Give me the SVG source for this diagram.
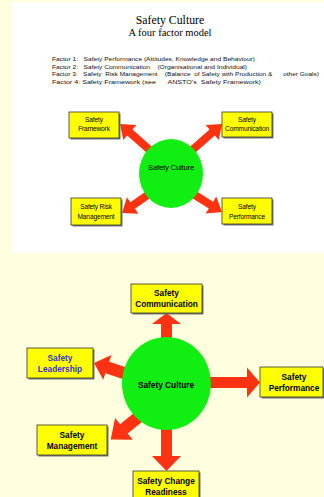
<svg xmlns="http://www.w3.org/2000/svg" width="324" height="497" viewBox="0 0 324 497">
<style>
.bg{fill:#FFFFE0}
.panel{fill:#FFFFFF}
.arrow{fill:#FF3311}
.node-ell{fill:#11EE11}
.box{fill:#FFFF00;stroke:#333333;stroke-width:0.8}
.shadow{fill:#777777}
.serif{font-family:"Liberation Serif","Times New Roman",serif;fill:#000;text-anchor:middle}
.fac{font-family:"Liberation Sans",Arial,sans-serif;font-size:6px;fill:#111;white-space:pre}
.t1{font-family:"Liberation Sans",Arial,sans-serif;font-size:6.6px;letter-spacing:-0.15px;fill:#000;text-anchor:middle}
.t2{font-family:"Liberation Sans",Arial,sans-serif;font-size:8.3px;font-weight:bold;fill:#000;text-anchor:middle}
.blue{fill:#3333CC}
</style>
<rect class="bg" x="0" y="0" width="324" height="497"/>
<rect class="panel" x="12" y="2" width="312" height="251"/>

<g id="title">
<text class="serif" x="170" y="24" font-size="11.8">Safety Culture</text>
<text class="serif" x="170" y="35.5" font-size="10.5">A four factor model</text>
</g>
<g id="factors">
<text class="fac" x="52" y="61" textLength="203" lengthAdjust="spacingAndGlyphs">Factor 1:   Safety Performance (Attitudes, Knowledge and Behaviour)</text>
<text class="fac" x="52" y="68.5" textLength="195" lengthAdjust="spacingAndGlyphs">Factor 2:   Safety Communication    (Organisational and Individual)</text>
<text class="fac" x="52" y="76" textLength="267" lengthAdjust="spacingAndGlyphs">Factor 3:   Safety  Risk Management    (Balance  of Safety with Production &amp;      other Goals)</text>
<text class="fac" x="52" y="83.5" textLength="209" lengthAdjust="spacingAndGlyphs">Factor 4: Safety Framework (see      ANSTO's  Safety Framework)</text>
</g>

<g id="connectors">
<polygon class="arrow" transform="translate(152,152) rotate(221.2)" points="0,-4 29.5,-4 29.5,-10 42.5,0 29.5,10 29.5,4 0,4"/>
<polygon class="arrow" transform="translate(190,152) rotate(-41.2)" points="0,-4 29.5,-4 29.5,-10 42.5,0 29.5,10 29.5,4 0,4"/>
<polygon class="arrow" transform="translate(152,192) rotate(145)" points="0,-4 23.6,-4 23.6,-10 36.6,0 23.6,10 23.6,4 0,4"/>
<polygon class="arrow" transform="translate(190,192) rotate(32)" points="0,-4 24.7,-4 24.7,-10 37.7,0 24.7,10 24.7,4 0,4"/>

<polygon class="arrow" transform="translate(166.5,345) rotate(-90)" points="0,-5.5 21,-5.5 21,-14.5 32,0 21,14.5 21,5.5 0,5.5"/>
<polygon class="arrow" transform="translate(166.5,420) rotate(90)" points="0,-5.5 36,-5.5 36,-14.5 51,0 36,14.5 36,5.5 0,5.5"/>
<polygon class="arrow" transform="translate(200,382.5)" points="0,-5.5 47,-5.5 47,-15 60,0 47,15 47,5.5 0,5.5"/>
<polygon class="arrow" transform="translate(130,375) rotate(198.4)" points="0,-6 23.9,-6 23.9,-13 37.9,0 23.9,13 23.9,6 0,6"/>
<polygon class="arrow" transform="translate(141,415) rotate(141)" points="0,-6 22,-6 22,-14 39,0 22,14 22,6 0,6"/>
</g>

<g id="n-top-culture">
<ellipse class="node-ell" cx="171" cy="173.5" rx="32" ry="34.5"/>
<text class="t1" x="171" y="169.5" font-size="7.2" textLength="46" lengthAdjust="spacingAndGlyphs">Safety Culture</text>
</g>
<g id="n-top-framework">
<rect class="shadow" x="70.5" y="113.5" width="50" height="26"/>
<rect class="box" x="69" y="112" width="50" height="26"/>
<text class="t1" x="94" y="122">Safety</text>
<text class="t1" x="94" y="131">Framework</text>
</g>
<g id="n-top-communication">
<rect class="shadow" x="223.5" y="113.5" width="50" height="25"/>
<rect class="box" x="222" y="112" width="50" height="25"/>
<text class="t1" x="247" y="122">Safety</text>
<text class="t1" x="247" y="131">Communication</text>
</g>
<g id="n-top-risk">
<rect class="shadow" x="72.5" y="199.5" width="50" height="27"/>
<rect class="box" x="71" y="198" width="50" height="27"/>
<text class="t1" x="96" y="209">Safety Risk</text>
<text class="t1" x="96" y="218.5">Management</text>
</g>
<g id="n-top-performance">
<rect class="shadow" x="223.5" y="199.5" width="50" height="26"/>
<rect class="box" x="222" y="198" width="50" height="26"/>
<text class="t1" x="247" y="209">Safety</text>
<text class="t1" x="247" y="218.5">Performance</text>
</g>

<g id="n-culture">
<ellipse class="node-ell" cx="166.5" cy="383.5" rx="44.5" ry="46.5"/>
<text class="t2" x="166" y="387.5" font-size="9.4">Safety Culture</text>
</g>
<g id="n-communication">
<rect class="shadow" x="132.5" y="285.5" width="71" height="29"/>
<rect class="box" x="131" y="284" width="71" height="29"/>
<text class="t2" x="166.5" y="296">Safety</text>
<text class="t2" x="166.5" y="306.5">Communication</text>
</g>
<g id="n-leadership">
<rect class="shadow" x="28.5" y="349.5" width="66" height="30"/>
<rect class="box" x="27" y="348" width="66" height="30"/>
<text class="t2 blue" x="60" y="361">Safety</text>
<text class="t2 blue" x="60" y="372">Leadership</text>
</g>
<g id="n-performance">
<rect class="shadow" x="261.5" y="368.5" width="63" height="30"/>
<rect class="box" x="260" y="367" width="63" height="30"/>
<text class="t2" x="294" y="380">Safety</text>
<text class="t2" x="294" y="390.5">Performance</text>
</g>
<g id="n-management">
<rect class="shadow" x="38.5" y="426.5" width="70" height="30"/>
<rect class="box" x="37" y="425" width="70" height="30"/>
<text class="t2" x="72" y="438">Safety</text>
<text class="t2" x="72" y="449">Management</text>
</g>
<g id="n-change">
<rect class="shadow" x="134.5" y="472.5" width="66" height="30"/>
<rect class="box" x="133" y="471" width="66" height="30"/>
<text class="t2" x="166" y="484">Safety Change</text>
<text class="t2" x="166" y="494.5">Readiness</text>
</g>
</svg>
